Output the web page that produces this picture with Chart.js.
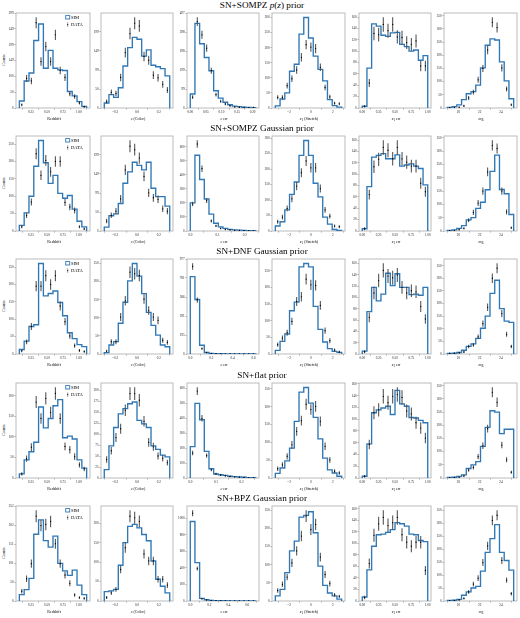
<!DOCTYPE html>
<html><head><meta charset="utf-8">
<script src="https://cdn.jsdelivr.net/npm/chart.js@4/dist/chart.umd.min.js"></script>
<style>
html,body{margin:0;padding:0;background:#fff}
body{width:520px;height:618px;position:relative;overflow:hidden;font-family:'Liberation Serif','DejaVu Serif',serif;color:#000}
canvas{position:absolute}
.rt{position:absolute;left:262px;font-size:9.2px;white-space:nowrap;transform:translate(-50%,-50%);line-height:1}
.ax{position:absolute;font-size:8px;white-space:nowrap;transform:translate(-50%,-50%) scale(0.5);line-height:1}
.ax sub{font-size:6px;vertical-align:-1.5px;line-height:0}
.yl{position:absolute;font-size:8px;white-space:nowrap;transform:translate(-50%,-50%) rotate(-90deg) scale(0.5);line-height:1}
</style></head><body>
<script>
// ---------------- data ----------------
const rowTitles = ['SN+SOMPZ <i>p</i>(<i>z</i>) prior','SN+SOMPZ Gaussian prior','SN+DNF Gaussian prior','SN+flat prior','SN+BPZ Gaussian prior'];
const colTitles = ['Redshift','<i>c</i> (Color)','<i>c</i> err','<i>x</i><sub>1</sub> (Stretch)','<i>x</i><sub>1</sub> err','<i>m</i><sub>B</sub>'];

// histogram ranges (14 bins each)
const redshiftRange = [0.07, 1.12];
const colorRange = [-0.30, 0.30];
const cErrRanges = [[0, 0.21], [0, 0.24], [0, 0.62], [0, 0.255], [0, 0.69]];
const x1Range = [-3.25, 2.8];
const x1ErrRange = [0, 1.0];
const mBRange = [18.95, 25.2];

// SIM histogram counts, one row per prior
const simRedshift = [
 [22, 85, 110, 212, 264, 125, 181, 125, 120, 118, 52, 38, 20, 5],
 [16, 52, 100, 186, 260, 196, 137, 160, 108, 94, 102, 63, 28, 12],
 [13, 37, 79, 84, 260, 167, 174, 181, 148, 110, 61, 44, 27, 21],
 [10, 44, 64, 87, 173, 122, 145, 176, 191, 98, 102, 95, 44, 24],
 [17, 30, 60, 177, 215, 160, 143, 172, 100, 80, 68, 82, 42, 17]];
const dataRedshift = [
 [10, 93, 85, 268, 146, 193, 146, 230, 118, 96, 45, 36, 16, 4],
 [12, 45, 83, 222, 160, 203, 170, 200, 200, 82, 69, 59, 12, 6],
 [9, 35, 79, 195, 195, 225, 200, 225, 138, 93, 52, 24, 10, 7],
 [10, 47, 75, 185, 145, 194, 160, 206, 145, 77, 69, 52, 32, 22],
 [26, 59, 99, 225, 200, 203, 211, 152, 99, 69, 47, 16, 9, 7]];

const simColor = [
 [13, 35, 28, 53, 110, 158, 185, 180, 136, 152, 112, 108, 103, 84],
 [10, 40, 45, 72, 125, 155, 180, 172, 160, 180, 112, 90, 90, 65],
 [4, 25, 34, 85, 143, 202, 250, 215, 167, 115, 79, 52, 25, 20],
 [19, 73, 115, 146, 158, 169, 173, 131, 123, 115, 73, 65, 52, 48],
 [24, 26, 30, 92, 150, 192, 197, 188, 171, 155, 103, 56, 38, 21]];
const dataColor = [
 [17, 41, 38, 80, 145, 195, 222, 215, 135, 125, 86, 79, 62, 47],
 [26, 41, 52, 84, 160, 222, 213, 191, 143, 100, 87, 83, 58, 52],
 [8, 34, 34, 102, 147, 226, 222, 217, 152, 120, 102, 93, 38, 32],
 [42, 62, 92, 112, 154, 192, 192, 177, 129, 81, 71, 50, 45, 35],
 [9, 21, 30, 81, 137, 218, 214, 205, 121, 103, 103, 56, 56, 41]];

const simCErr = [
 [73, 443, 336, 264, 195, 90, 52, 30, 17, 10, 7, 4, 3, 2],
 [200, 540, 367, 228, 120, 55, 29, 19, 12, 8, 6, 4, 3, 2],
 [795, 560, 90, 15, 6, 4, 3, 2, 2, 1, 1, 1, 1, 1],
 [210, 500, 390, 178, 62, 27, 22, 18, 12, 9, 7, 5, 3, 2],
 [960, 463, 31, 15, 8, 5, 4, 3, 2, 2, 1, 1, 1, 1]];
const dataCErr = [
 [57, 452, 383, 313, 195, 70, 35, 21, 12, 6, 4, 3, 2, 3],
 [192, 620, 444, 216, 72, 36, 19, 12, 8, 5, 4, 3, 2, 1],
 [900, 555, 55, 15, 5, 3, 2, 2, 1, 1, 1, 1, 1, 1],
 [167, 582, 400, 150, 55, 27, 20, 15, 10, 8, 6, 4, 3, 2],
 [1060, 392, 27, 12, 6, 4, 3, 2, 2, 1, 1, 1, 1, 1]];

const simX1 = [
 [7, 30, 50, 122, 145, 245, 300, 232, 172, 128, 90, 28, 8, 3],
 [16, 30, 68, 118, 158, 244, 292, 244, 154, 110, 45, 22, 5, 2],
 [11, 38, 60, 130, 156, 262, 272, 262, 143, 74, 36, 16, 8, 5],
 [13, 28, 48, 84, 159, 241, 254, 210, 170, 110, 56, 23, 14, 5],
 [14, 32, 78, 138, 165, 231, 236, 246, 188, 96, 43, 22, 14, 5]];
const dataX1 = [
 [35, 35, 74, 97, 126, 168, 210, 202, 197, 135, 68, 37, 16, 14],
 [30, 45, 73, 104, 145, 188, 226, 204, 204, 137, 68, 48, 16, 14],
 [28, 48, 64, 98, 158, 172, 225, 208, 206, 146, 70, 40, 12, 6],
 [26, 37, 61, 93, 131, 161, 207, 192, 201, 159, 89, 51, 19, 14],
 [29, 46, 66, 105, 138, 179, 234, 197, 211, 121, 73, 48, 17, 13]];

const simX1Err = [
 [3, 70, 148, 144, 128, 126, 132, 133, 112, 108, 100, 102, 84, 92],
 [4, 78, 130, 133, 136, 127, 127, 134, 114, 116, 118, 114, 110, 81],
 [5, 75, 118, 94, 106, 143, 121, 142, 118, 118, 105, 106, 104, 118],
 [3, 58, 111, 116, 119, 122, 108, 149, 126, 122, 103, 102, 98, 94],
 [7, 54, 95, 115, 116, 119, 124, 136, 134, 130, 116, 115, 105, 103]];
const dataX1Err = [
 [3, 44, 131, 129, 147, 136, 147, 125, 124, 115, 112, 118, 74, 74],
 [4, 64, 113, 126, 147, 142, 127, 147, 127, 121, 114, 114, 84, 69],
 [4, 65, 108, 130, 148, 138, 135, 140, 118, 108, 112, 110, 84, 62],
 [3, 57, 111, 116, 139, 128, 139, 142, 137, 114, 109, 94, 85, 68],
 [6, 65, 114, 134, 145, 131, 136, 145, 115, 102, 95, 102, 102, 53]];

const simMB = [
 [2, 5, 12, 32, 54, 62, 87, 152, 238, 262, 258, 175, 103, 35],
 [2, 4, 10, 20, 42, 50, 85, 108, 155, 224, 285, 156, 140, 62],
 [2, 3, 6, 15, 30, 40, 62, 102, 150, 240, 292, 180, 130, 125],
 [2, 3, 6, 12, 36, 50, 62, 120, 192, 255, 250, 168, 185, 185],
 [2, 3, 6, 22, 35, 50, 56, 115, 187, 240, 294, 187, 156, 119]];
const dataMB = [
 [1, 2, 3, 8, 38, 60, 107, 150, 220, 325, 305, 152, 72, 12],
 [1, 2, 5, 10, 40, 70, 105, 150, 222, 322, 310, 150, 72, 12],
 [2, 3, 5, 8, 30, 36, 68, 120, 185, 300, 340, 160, 78, 30],
 [1, 2, 3, 8, 30, 40, 81, 122, 187, 325, 287, 125, 69, 22],
 [1, 2, 4, 10, 35, 65, 88, 148, 212, 310, 330, 156, 80, 28]];

// tick values and labels
const redshiftTicks = [0.25, 0.5, 0.75, 1.0], redshiftTickLabels = ['0.25','0.50','0.75','1.00'];
const colorTicks = [-0.2, 0, 0.2], colorTickLabels = ['\u22120.2','0.0','0.2'];
const cErrTicks = [[0,0.05,0.1,0.15,0.2],[0,0.1,0.2],[0,0.2,0.4,0.6],[0,0.1,0.2],[0,0.2,0.4,0.6]];
const cErrTickLabels = [['0.00','0.05','0.10','0.15','0.20'],['0.0','0.1','0.2'],['0.0','0.2','0.4','0.6'],['0.0','0.1','0.2'],['0.0','0.2','0.4','0.6']];
const x1Ticks = [-2, 0, 2], x1TickLabels = ['\u22122','0','2'];
const x1ErrTicks = [0, 0.25, 0.5, 0.75, 1.0], x1ErrTickLabels = ['0.00','0.25','0.50','0.75','1.00'];
const mBTicks = [20, 22, 24], mBTickLabels = ['20','22','24'];
const yStepRedshift = [50,50,50,50,50];
const yStepColor = [50,50,50,25,50];
const yStepCErr = [100,100,200,100,200];
const yStepX1 = [50,50,50,50,50];
const yStepX1Err = [20,20,20,20,20];
const yStepMB = [50,50,50,50,50];

// ---------------- layout / style ----------------
const colLeft = [16, 101, 187, 272, 359, 444];
const colRight = [91, 174, 260, 346, 432, 518];
const rowTop = [11.5, 134.5, 258, 381.5, 505];
const boxH = 96;
const BLUE = '#2f77b5';
const FONT = "'Liberation Serif','DejaVu Serif',serif";
const NB = 14;

const columns = [
 {sim: simRedshift, data: dataRedshift, range: r => redshiftRange, ticks: r => redshiftTicks, labels: r => redshiftTickLabels, step: yStepRedshift},
 {sim: simColor, data: dataColor, range: r => colorRange, ticks: r => colorTicks, labels: r => colorTickLabels, step: yStepColor},
 {sim: simCErr, data: dataCErr, range: r => cErrRanges[r], ticks: r => cErrTicks[r], labels: r => cErrTickLabels[r], step: yStepCErr},
 {sim: simX1, data: dataX1, range: r => x1Range, ticks: r => x1Ticks, labels: r => x1TickLabels, step: yStepX1},
 {sim: simX1Err, data: dataX1Err, range: r => x1ErrRange, ticks: r => x1ErrTicks, labels: r => x1ErrTickLabels, step: yStepX1Err},
 {sim: simMB, data: dataMB, range: r => mBRange, ticks: r => mBTicks, labels: r => mBTickLabels, step: yStepMB}];

const framePlugin = {
  id: 'frame',
  beforeDatasetsDraw(chart) {
    const a = chart.chartArea, ctx = chart.ctx;
    ctx.save(); ctx.strokeStyle = '#b4b4b4'; ctx.lineWidth = 0.9;
    ctx.strokeRect(a.left, a.top, a.right - a.left, a.bottom - a.top);
    ctx.restore();
  }
};
const legendPlugin = {
  id: 'simlegend',
  afterDraw(chart) {
    const a = chart.chartArea, ctx = chart.ctx;
    ctx.save();
    ctx.strokeStyle = BLUE; ctx.lineWidth = 0.9;
    ctx.strokeRect(a.right - 24.3, a.top + 2.6, 4, 3.4);
    ctx.fillStyle = '#000'; ctx.font = '4.6px ' + FONT; ctx.textBaseline = 'middle';
    ctx.fillText('SIM', a.right - 19, a.top + 4.4);
    ctx.fillText('DATA', a.right - 19, a.top + 11.6);
    ctx.strokeStyle = '#555'; ctx.lineWidth = 0.5;
    ctx.beginPath(); ctx.moveTo(a.right - 22.3, a.top + 9.2); ctx.lineTo(a.right - 22.3, a.top + 14); ctx.stroke();
    ctx.fillStyle = '#000'; ctx.beginPath(); ctx.arc(a.right - 22.3, a.top + 11.6, 0.6, 0, 7); ctx.fill();
    ctx.restore();
  }
};

function addDiv(cls, html, x, y) {
  const d = document.createElement('div');
  d.className = cls; d.innerHTML = html; d.style.left = x + 'px'; d.style.top = y + 'px';
  document.body.appendChild(d);
}

const padL = 16, padT = 3, padR = 3, padB = 10;
for (let r = 0; r < 5; r++) {
  addDiv('rt', rowTitles[r], 262, rowTop[r] - 6);
  addDiv('yl', 'Counts', 3.5, rowTop[r] + boxH / 2);
  for (let c = 0; c < 6; c++) {
    const col = columns[c];
    const rg = col.range(r);
    const edges = [];
    for (let i = 0; i <= NB; i++) edges.push(rg[0] + (rg[1] - rg[0]) * i / NB);
    const sim = col.sim[r], dat = col.data[r];
    const stepPts = [{x: edges[0], y: 0}];
    sim.forEach((v, i) => stepPts.push({x: edges[i], y: v}));
    stepPts.push({x: edges[NB], y: 0});
    const centers = sim.map((v, i) => (edges[i] + edges[i + 1]) / 2);
    const pts = dat.map((v, i) => ({x: centers[i], y: v}));
    const bars = dat.map((v, i) => ({x: centers[i], y: [v - Math.sqrt(v), v + Math.sqrt(v)]})); // Poisson error bars
    const ytop = Math.max(Math.max(...sim), ...dat.map(v => v + Math.sqrt(v))) * 1.05;
    const span = rg[1] - rg[0];
    const xt = col.ticks(r), xl = col.labels(r);

    const W = colRight[c] - colLeft[c];
    const cv = document.createElement('canvas');
    cv.width = W + padL + padR; cv.height = boxH + padT + padB;
    cv.style.left = (colLeft[c] - padL) + 'px'; cv.style.top = (rowTop[r] - padT) + 'px';
    cv.style.width = cv.width + 'px'; cv.style.height = cv.height + 'px';
    document.body.appendChild(cv);

    addDiv('ax', colTitles[c], (colLeft[c] + colRight[c]) / 2, rowTop[r] + boxH + 11);

    new Chart(cv, {
      type: 'line',
      data: { datasets: [
        {type: 'line', data: stepPts, stepped: 'before', borderColor: BLUE, borderWidth: 1.35, pointRadius: 0, fill: false, tension: 0, order: 3},
        {type: 'bar', data: bars, backgroundColor: 'rgba(70,70,70,0.9)', barThickness: 0.45, borderWidth: 0, order: 2},
        {type: 'line', data: pts, showLine: false, pointRadius: 0.65, pointBackgroundColor: '#000', pointBorderWidth: 0, order: 1}
      ]},
      options: {
        responsive: false, animation: false, devicePixelRatio: 1, events: [],
        layout: {padding: {left: 0, top: padT, right: padR, bottom: 0}},
        plugins: {legend: {display: false}, tooltip: {enabled: false}},
        scales: {
          x: {type: 'linear', min: rg[0] - 0.05 * span, max: rg[1] + 0.05 * span, offset: false,
              grid: {display: true, drawOnChartArea: false, drawTicks: true, tickLength: 1.6, color: '#666', lineWidth: 0.5},
              border: {display: false},
              ticks: {font: {family: FONT, size: 3.3}, color: '#222', padding: 0.8, maxRotation: 0, autoSkip: false,
                      callback: (v) => { const k = xt.findIndex(t => Math.abs(t - v) < 1e-9); return k >= 0 ? xl[k] : ''; }},
              afterBuildTicks: ax => { ax.ticks = xt.map(v => ({value: v})); },
              afterFit: ax => { ax.height = padB; ax.paddingLeft = 0; ax.paddingRight = 0; }},
          y: {type: 'linear', min: 0, max: ytop,
              grid: {display: true, drawOnChartArea: false, drawTicks: true, tickLength: 1.6, color: '#666', lineWidth: 0.5},
              border: {display: false},
              ticks: {font: {family: FONT, size: 3.3}, color: '#222', padding: 0.8, stepSize: col.step[r], includeBounds: false,
                      callback: v => String(Math.round(v))},
              afterFit: ax => { ax.width = padL; ax.paddingTop = 0; ax.paddingBottom = 0; }}
        }
      },
      plugins: c === 0 ? [framePlugin, legendPlugin] : [framePlugin]
    });
  }
}
</script>
</body></html>
